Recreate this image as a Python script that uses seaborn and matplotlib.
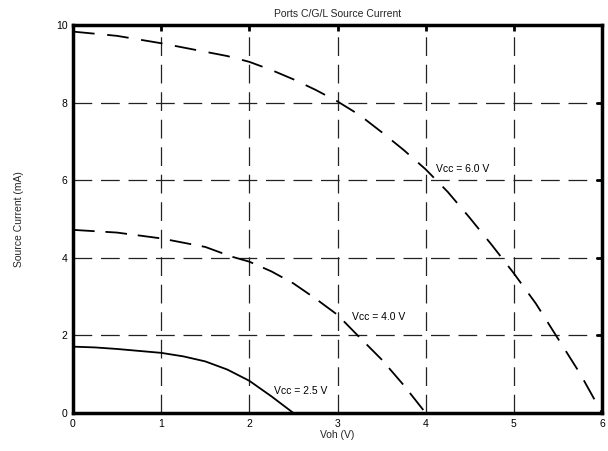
import numpy as np
import pandas as pd
import matplotlib
matplotlib.use("Agg")
import matplotlib.pyplot as plt
import seaborn as sns

title = "Ports C/G/L Source Current"
x_label = "Voh (V)"
y_label = "Source Current (mA)"

v6_x = [0, 0.5, 1, 1.5, 1.75, 2, 2.25, 2.5, 2.75, 3, 3.25, 3.5, 3.75, 4,
        4.25, 4.5, 4.75, 5, 5.25, 5.5, 5.75, 6]
v6_y = [9.83, 9.72, 9.53, 9.31, 9.2, 9.05, 8.84, 8.6, 8.33, 8.03, 7.68, 7.24,
        6.78, 6.28, 5.7, 5.03, 4.33, 3.6, 2.82, 1.92, 1.02, 0.0]
v4_x = [0, 0.5, 1, 1.5, 1.8, 2, 2.25, 2.5, 2.75, 3, 3.25, 3.5, 3.75, 4]
v4_y = [4.72, 4.65, 4.5, 4.28, 4.03, 3.9, 3.65, 3.34, 2.95, 2.53, 1.95, 1.38,
        0.72, 0.0]
v25_x = [0, 0.25, 0.5, 0.75, 1, 1.25, 1.5, 1.75, 2, 2.25, 2.5]
v25_y = [1.71, 1.69, 1.65, 1.6, 1.55, 1.46, 1.33, 1.12, 0.83, 0.43, 0.0]

labels = ["Vcc = 6.0 V", "Vcc = 4.0 V", "Vcc = 2.5 V"]
label_x = [4.12, 3.17, 2.28]
label_y = [6.3, 2.47, 0.57]

df = pd.concat([
    pd.DataFrame({"x": v6_x, "y": v6_y, "s": labels[0]}),
    pd.DataFrame({"x": v4_x, "y": v4_y, "s": labels[1]}),
    pd.DataFrame({"x": v25_x, "y": v25_y, "s": labels[2]}),
])

sns.set_theme(style="white")
plt.rcParams["font.family"] = ["Liberation Sans", "DejaVu Sans"]

fig = plt.figure(figsize=(6.08, 4.51), dpi=100)
ax = fig.add_axes([73/608, 1 - 413/451, (602-73)/608, (413-25)/451])

sns.lineplot(data=df, x="x", y="y", style="s", ax=ax, color="black",
             dashes={labels[0]: (12, 7), labels[1]: (12, 6), labels[2]: ""},
             linewidth=1.3, legend=False, sort=False)

for t, lx, ly in zip(labels, label_x, label_y):
    ax.text(lx, ly, t, fontsize=7.5, ha="left", va="center", color="black")

ax.set_xlim(0, 6)
ax.set_ylim(0, 10)
ax.set_xticks(range(0, 7))
ax.set_yticks(range(0, 11, 2))
ax.grid(True, color="#222222", linestyle=(0, (15, 7)), linewidth=0.9)
for sp in ax.spines.values():
    sp.set_linewidth(2.5)
    sp.set_color("black")
ax.tick_params(direction="in", length=4, width=2, top=True, right=True,
               labelsize=7.5, colors="black", pad=4)
ax.set_title(title, fontsize=7.5, pad=6)
ax.set_xlabel(x_label, fontsize=7.5, labelpad=1)
ax.set_ylabel(y_label, fontsize=7.5, labelpad=23)

fig.savefig("out.png", dpi=100)
